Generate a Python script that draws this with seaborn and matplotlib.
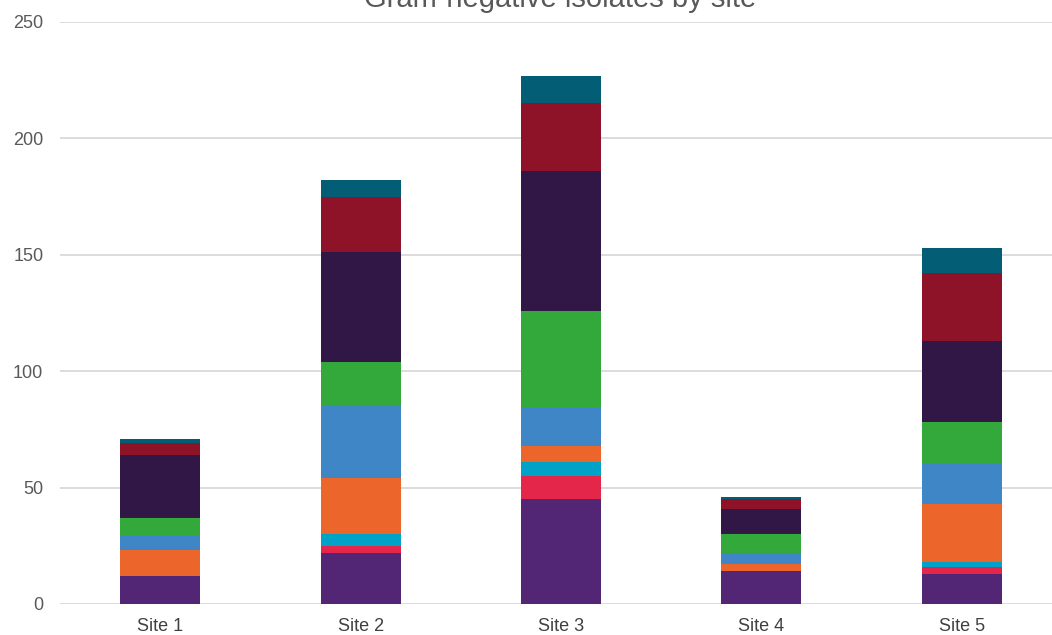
import matplotlib
matplotlib.use("Agg")
import matplotlib.pyplot as plt
import seaborn as sns
import numpy as np

sites = ["Site 1", "Site 2", "Site 3", "Site 4", "Site 5"]
series_names = ["Series 1", "Series 2", "Series 3", "Series 4", "Series 5",
                "Series 6", "Series 7", "Series 8", "Series 9"]
s1 = [12, 22, 45, 14, 13]
s2 = [0, 3, 10, 0, 3]
s3 = [0, 5, 6, 0, 2]
s4 = [11, 24, 7, 3, 25]
s5 = [6, 31, 16, 5, 17]
s6 = [8, 19, 42, 8, 18]
s7 = [27, 47, 60, 11, 35]
s8 = [5, 24, 29, 4, 29]
s9 = [2, 7, 12, 1, 11]
series = [s1, s2, s3, s4, s5, s6, s7, s8, s9]
colors = ["#522575", "#E3264A", "#00A3C7", "#EC652B", "#3E86C6",
          "#34A93B", "#311745", "#8F1328", "#035E75"]
yticks = [0, 50, 100, 150, 200, 250]

sns.set_theme(style="white")
plt.rcParams['font.family'] = ['Liberation Sans', 'DejaVu Sans']

fig = plt.figure(figsize=(10.52, 6.35), dpi=100)
ax = fig.add_axes([60/1052, 1 - 604/635, 1 - 60/1052, (604-22)/635])

bottom = np.zeros(len(sites))
for name, vals, c in zip(series_names, series, colors):
    sns.barplot(x=sites, y=vals, bottom=bottom, color=c, width=0.4,
                ax=ax, linewidth=0, saturation=1, label=name)
    bottom = bottom + np.array(vals)

ax.set_ylim(0, 250)
ax.set_xlim(-0.5, 4.45)
ax.set_yticks(yticks)
ax.set_yticklabels([str(v) for v in yticks])
ax.yaxis.grid(True, color="#D9D9D9", linewidth=1.3)
ax.set_axisbelow(True)
for s in ax.spines.values():
    s.set_visible(False)
ax.tick_params(axis="y", length=0, pad=12, labelsize=13, labelcolor="#595959")
ax.tick_params(axis="x", length=0, pad=10, labelsize=13, labelcolor="#404040")
ax.set_xlabel("")
ax.set_ylabel("")
leg = ax.get_legend()
if leg is not None:
    leg.remove()

fig.text(560/1052, 1 - 7/635, "Gram-negative isolates by site", ha="center",
         va="baseline", fontsize=21, color="#595959")

fig.savefig("out.png", dpi=100)
